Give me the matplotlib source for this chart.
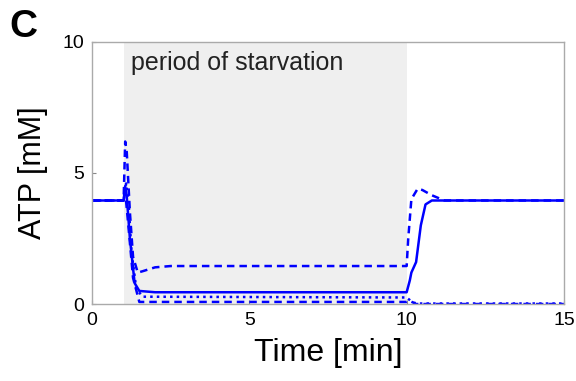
import matplotlib
matplotlib.use('Agg')
from matplotlib import pyplot as plt

plt.rcParams['font.family'] = ['Liberation Sans', 'DejaVu Sans']

# period of starvation (min)
starve_start = 1.0
starve_end = 10.0

# ATP traces (time [min], ATP [mM])
t_solid = [0, 1.0, 1.05, 1.1, 1.2, 1.35, 1.5, 2.0, 10.0, 10.1, 10.15, 10.3, 10.45, 10.6, 10.8, 15]
atp_solid = [3.95, 3.95, 4.5, 4.1, 2.5, 0.8, 0.5, 0.45, 0.45, 0.9, 1.2, 1.6, 3.0, 3.8, 3.95, 3.95]

t_dashed = [0, 1.0, 1.05, 1.1, 1.2, 1.3, 1.45, 1.6, 2.0, 2.5, 3.0, 10.0, 10.05, 10.15, 10.35, 10.5, 10.8, 11.2, 15]
atp_dashed = [3.95, 3.95, 6.2, 5.8, 3.5, 1.8, 1.2, 1.25, 1.4, 1.45, 1.45, 1.45, 2.5, 4.0, 4.4, 4.35, 4.15, 3.95, 3.95]

t_dotted = [0, 1.0, 1.08, 1.15, 1.25, 1.4, 1.6, 10.0, 10.2, 10.4, 15]
atp_dotted = [3.95, 3.95, 4.6, 4.0, 2.0, 0.6, 0.28, 0.25, 0.05, 0.02, 0.02]

t_low = [0, 1.0, 1.05, 1.15, 1.3, 1.5, 10.0, 10.1, 10.3, 15]
atp_low = [3.95, 3.95, 4.3, 3.0, 1.0, 0.08, 0.08, 0.12, 0.0, 0.0]

fig = plt.figure(figsize=(5.76, 3.81), dpi=100)
ax = fig.add_axes([0.16, 0.202, 0.819, 0.688])

ax.axvspan(starve_start, starve_end, color='#efefef', lw=0, zorder=0)
ax.text(1.25, 9.2, 'period of starvation', fontsize=18, color='#222222', va='center')

blue = '#0000ff'
ax.plot(t_solid, atp_solid, color=blue, lw=1.8, ls='-')
ax.plot(t_dashed, atp_dashed, color=blue, lw=1.8, ls='--', dashes=(3, 2))
ax.plot(t_dotted, atp_dotted, color=blue, lw=1.8, ls=':')
ax.plot(t_low, atp_low, color=blue, lw=1.8, ls='--', dashes=(3, 2))

ax.set_xlim(0, 15)
ax.set_ylim(0, 10)
ax.set_xticks([0, 5, 10, 15])
ax.set_yticks([0, 5, 10])
ax.tick_params(direction='in', length=3, color='#888888', labelsize=14, pad=6)
for s in ax.spines.values():
    s.set_color('#aaaaaa')
    s.set_linewidth(1.0)

ax.set_xlabel('Time [min]', fontsize=23, labelpad=6)
ax.set_ylabel('ATP [mM]', fontsize=22, labelpad=10)

fig.text(0.017, 0.93, 'C', fontsize=28, fontweight='bold', va='center')

fig.savefig('out.png', dpi=100)
